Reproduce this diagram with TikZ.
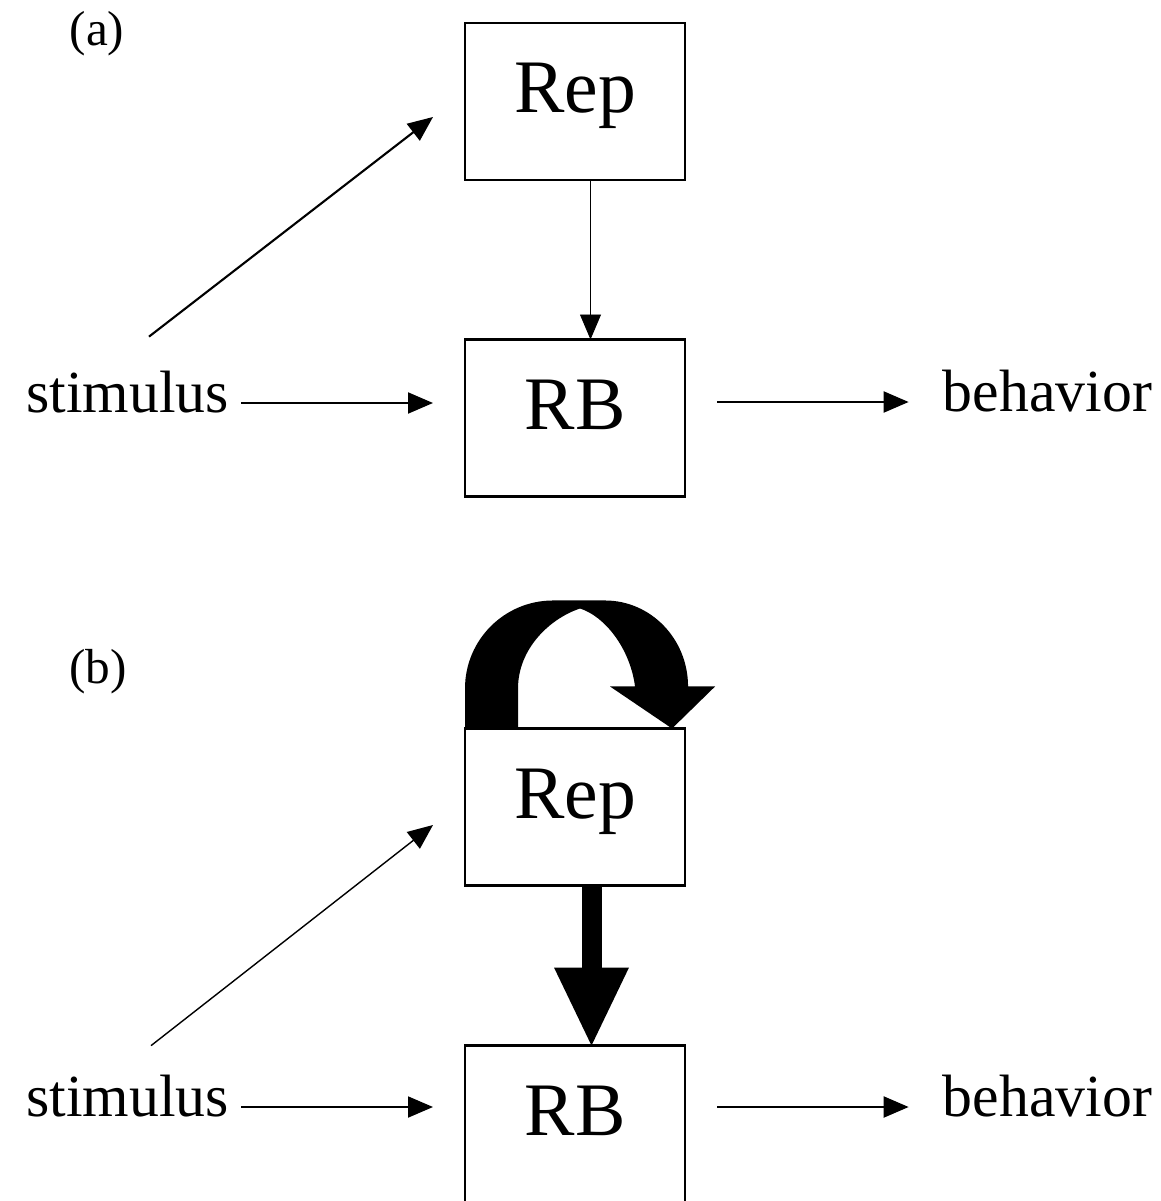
\documentclass[tikz,border=0pt]{standalone}
\usepackage{fontspec}
\setmainfont{Liberation Serif}
\usetikzlibrary{positioning, arrows.meta}

\begin{document}
\begin{tikzpicture}[on grid,
    box/.style={draw, line width=1.4pt, minimum width=4.4cm, minimum height=3.14cm,
      inner sep=0pt, outer sep=0pt, text height=0.95cm, text depth=0.5cm,
      font=\fontsize{43}{50}\selectfont},
    word/.style={inner sep=0.1cm, text height=0.62cm, text depth=0.26cm,
      font=\fontsize{34}{40}\selectfont},
    tag/.style={font=\fontsize{28}{32}\selectfont},
    arr/.style={line width=1.2pt, -{Triangle[length=0.5cm,width=0.42cm]}},
    fat/.style={line width=0.4cm, -{Triangle[length=1.56cm,width=1.5cm,line width=0pt]}}]
   \useasboundingbox[fill=white] (0,0) rectangle (23.22,-24.02);

   % (a): Rep feeds RB weakly
   \node[tag] (tag_a) at (1.94,-0.68) {(a)};
   \node[box] (rep_a) at (11.5,-2.03) {Rep};
   \node[box] (rb_a) [below=6.33cm of rep_a] {RB};
   \node[word] (stim_a) at (2.55,-8.06) {stimulus};
   \node[word] (beh_a) at (20.95,-8.04) {behavior};

   % (b): Rep loops on itself and drives RB
   \node[tag] (tag_b) at (1.96,-13.44) {(b)};
   \node[box] (rep_b) at (11.5,-16.14) {Rep};
   \node[box] (rb_b) [below=6.34cm of rep_b] {RB};
   \node[word] (stim_b) at (2.55,-22.14) {stimulus};
   \node[word] (beh_b) at (20.95,-22.14) {behavior};

   \path[arr]
    (stim_a) edge [shorten <=0.14cm, shorten >=0.64cm] (stim_a -| rb_a.west)
    (rb_a.east |- beh_a) edge [shorten <=0.64cm, shorten >=0.58cm] (beh_a)
    ([xshift=0.43cm,yshift=0.78cm]stim_a.north) edge ([xshift=-0.64cm,yshift=-0.31cm]rep_a.west)
    ([xshift=0.31cm]rep_a.south) edge [line width=0.5pt] ([xshift=0.31cm]rb_a.north)

    (stim_b) edge [line width=1.1pt, shorten <=0.14cm, shorten >=0.64cm] (stim_b -| rb_b.west)
    (rb_b.east |- beh_b) edge [shorten <=0.64cm, shorten >=0.58cm] (beh_b)
    ([xshift=0.47cm,yshift=0.68cm]stim_b.north) edge [line width=0.8pt] ([xshift=-0.64cm,yshift=-0.36cm]rep_b.west)
    ;

   \draw[fat] ([xshift=0.33cm]rep_b.south) -- ([xshift=0.33cm]rb_b.north);

   % self loop on top of Rep
   \begin{scope}[shift={(rep_b.north west)}, x=0.02cm, y=-0.02cm]
    \fill (0,0) -- (0,-40) .. controls (0,-88.6) and (39.4,-128) .. (88,-128)
      -- (140,-128) .. controls (185.8,-128) and (223,-89.5) .. (223,-42)
      -- (250,-42) -- (207,0) -- (145,-42) -- (170,-42)
      .. controls (165,-80) and (140,-112) .. (115,-120)
      .. controls (85,-110) and (53,-80) .. (53,-40) -- (53,0) -- cycle;
   \end{scope}
\end{tikzpicture}
\end{document}
